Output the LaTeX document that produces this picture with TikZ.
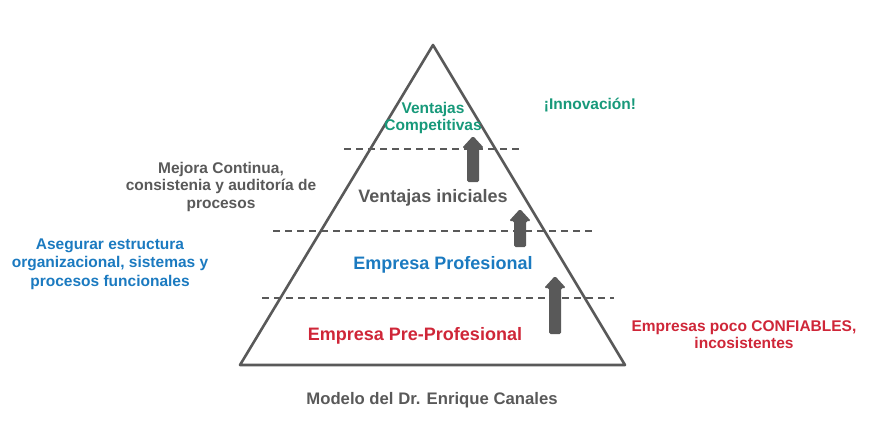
\documentclass[tikz,border=0pt]{standalone}
\usepackage{fontspec}
\setmainfont{Liberation Sans}
\definecolor{lgray}{HTML}{595959}
\definecolor{tgreen}{HTML}{17997A}
\definecolor{tblue}{HTML}{1B7AC0}
\definecolor{tred}{HTML}{CF2638}
\begin{document}
\begin{tikzpicture}[x=1pt,y=-1pt,
  lbl/.style={inner sep=0pt, anchor=base, align=center, font=\bfseries\fontsize{15.5}{17.5}\selectfont},
  big/.style={inner sep=0pt, anchor=base, align=center, font=\bfseries\fontsize{18}{20}\selectfont},
  dashline/.style={lgray, line width=2.2pt, dash pattern=on 7pt off 5pt},
  blockarrow/.style={fill=lgray, rounded corners=1.5pt}]
\path[use as bounding box] (0,0) rectangle (884,428);
% triangle
\coordinate (apex) at (433,45);
\coordinate (br) at (625,365);
\coordinate (bl) at (240,365);
\draw[lgray, line width=2.6pt, line join=round] (apex) -- (br) -- (bl) -- cycle;
% dashed lines
\coordinate (d1a) at (344,149); \coordinate (d1b) at (521,149);
\coordinate (d2a) at (273,231); \coordinate (d2b) at (593,231);
\coordinate (d3a) at (262,298); \coordinate (d3b) at (614,298);
\draw[dashline] (d1a) -- (d1b);
\draw[dashline] (d2a) -- (d2b);
\draw[dashline] (d3a) -- (d3b);
% block arrows
\newcommand\uparr[3]{%
\fill[blockarrow] (#1-6,#3) -- (#1-6,#2+12) -- (#1-11,#2+12) -- (#1,#2) -- (#1+11,#2+12) -- (#1+6,#2+12) -- (#1+6,#3) -- cycle;}
\uparr{473}{136}{182}
\uparr{520}{209}{247}
\uparr{555}{276}{334}
% texts
\node[lbl, text=tgreen, font=\bfseries\fontsize{15.5}{17}\selectfont] (vc) at (433,130) {Ventajas\\Competitivas};
\node[lbl, text=tgreen] (inn) at (590,110) {¡Innovación!};
\node[big, text=lgray] (vi) at (433,202) {Ventajas iniciales};
\node[big, text=tblue] (ep) at (443,269) {Empresa Profesional};
\node[big, text=tred] (epp) at (415,340) {Empresa Pre-Profesional};
\node[lbl, text=lgray] (mc) at (221,208) {Mejora Continua,\\consistenia y auditoría de\\procesos};
\node[lbl, text=tblue, font=\bfseries\fontsize{15.5}{18.5}\selectfont] (as) at (110,286) {Asegurar estructura\\organizacional, sistemas y\\procesos funcionales};
\node[lbl, text=tred, font=\bfseries\fontsize{15.5}{17}\selectfont] (conf) at (744,348) {Empresas poco CONFIABLES,\\incosistentes};
\node[inner sep=0pt, anchor=base, text=lgray, font=\bfseries\fontsize{16.7}{19}\selectfont] (mod) at (432,404) {Modelo del Dr. Enrique Canales};
\end{tikzpicture}
\end{document}
